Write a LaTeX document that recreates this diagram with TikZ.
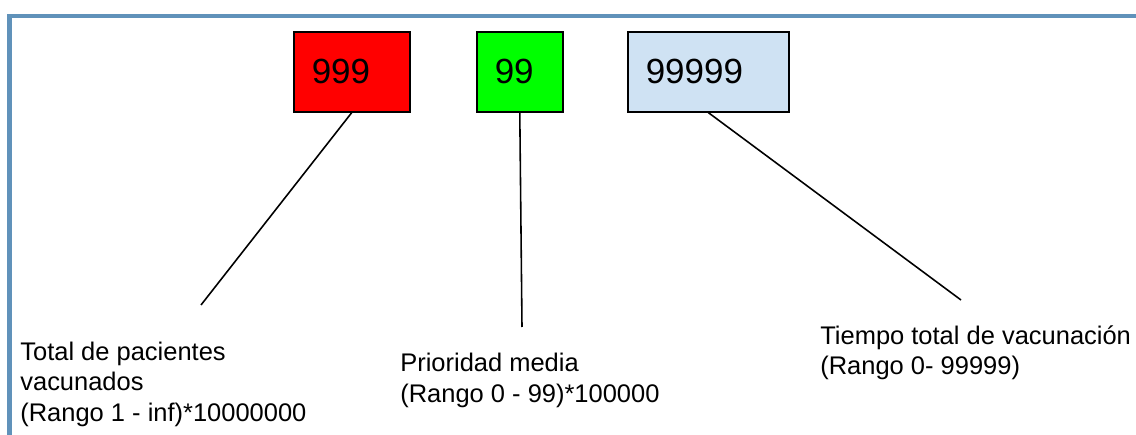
\documentclass[tikz,border=0pt]{standalone}
\usepackage{fontspec}
\setmainfont{Liberation Sans}
\usetikzlibrary{positioning,calc}
\definecolor{framecol}{RGB}{96,146,186}
\definecolor{paleblue}{RGB}{207,226,243}
\begin{document}
\begin{tikzpicture}[x=0.02cm,y=-0.02cm,
    numbox/.style={draw, line width=0.9pt, anchor=north west, minimum height=1.6cm,
        inner xsep=0.36cm, inner ysep=0pt, align=left,
        font=\fontsize{19.9pt}{22pt}\selectfont},
    lbl/.style={anchor=base west, inner sep=0pt, align=left,
        font=\fontsize{14.5pt}{17.3pt}\selectfont}]
    \useasboundingbox (0,0) rectangle (1136,435);
    \clip (0,0) rectangle (1136,435);
    \draw[framecol, line width=2.6pt] (9.5,16) rectangle (1150,450);

    \node[numbox, fill=red, text width=1.6cm] (total) at (293,31) {999};
    \node[numbox, fill=green, text width=1.0cm] (prio) at (476,31) {99};
    \node[numbox, fill=paleblue, text width=2.5cm] (tiempo) at (627,31) {99999};

    \coordinate (e1) at (201,305);
    \coordinate (e2) at (522,327);
    \coordinate (e3) at (961,300);
    \draw[line width=0.9pt] (total.south) -- (e1);
    \draw[line width=0.9pt] (prio.south) -- (e2);
    \draw[line width=0.9pt] (tiempo.south) -- (e3);

    % base anchor sits on the last line
    \node[lbl] (ltotal) at (20,421) {Total de pacientes\\vacunados\\(Rango 1 - inf)*10000000};
    \node[lbl] (lprio) at (400,402) {Prioridad media\\(Rango 0 - 99)*100000};
    \node[lbl] (ltiempo) at (820,375) {Tiempo total de vacunación\\(Rango 0- 99999)};
\end{tikzpicture}
\end{document}
